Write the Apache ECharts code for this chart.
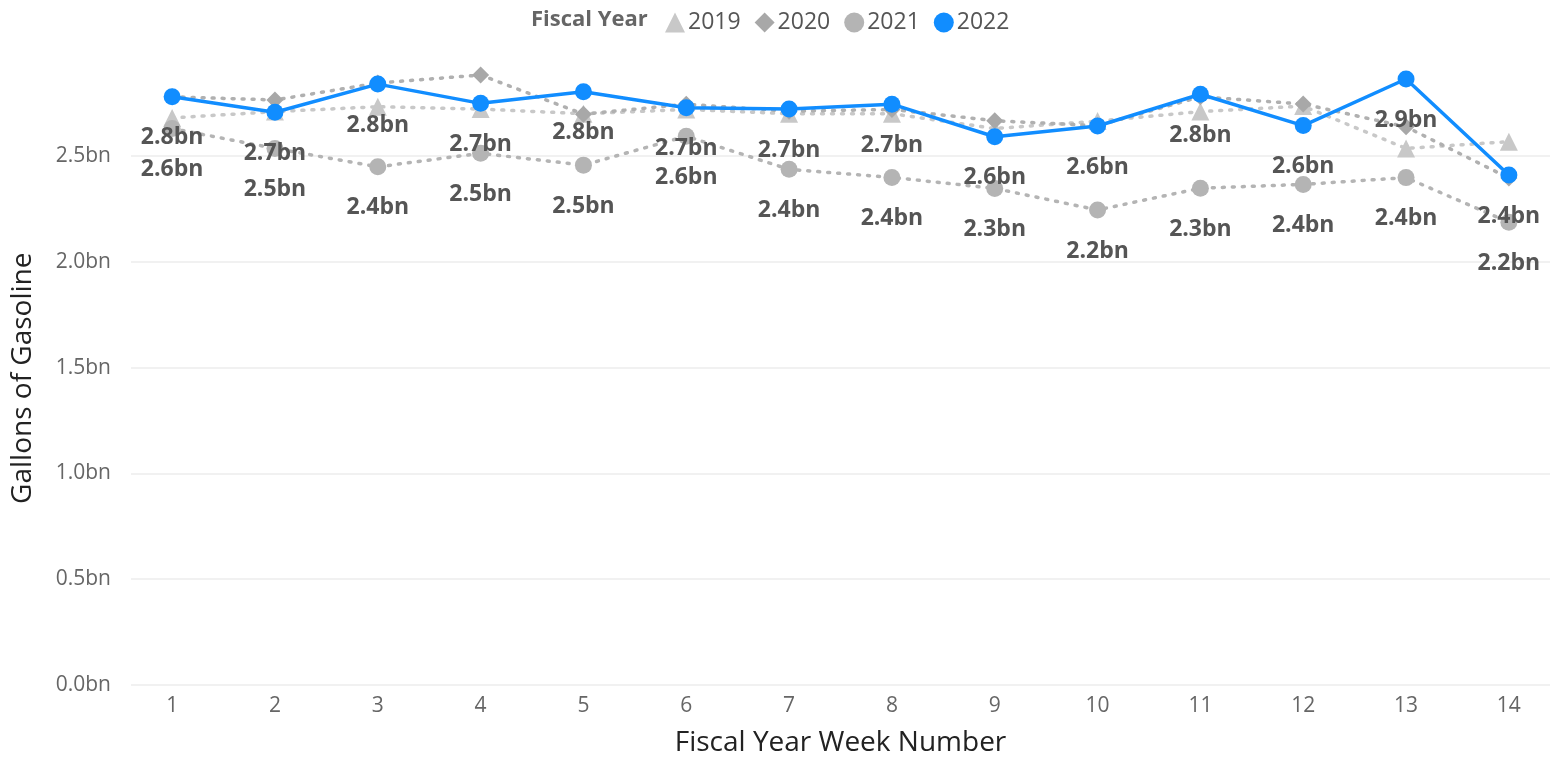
<!DOCTYPE html>
<html>
<head>
<meta charset="utf-8">
<script src="https://cdn.jsdelivr.net/npm/echarts@6/dist/echarts.min.js"></script>
<style>
html,body{margin:0;padding:0;background:#fff;}
#chart{width:1558px;height:768px;}
</style>
</head>
<body>
<div id="chart"></div>
<script>
const weeks = [1,2,3,4,5,6,7,8,9,10,11,12,13,14];
const fy2019 = [2.68, 2.71, 2.733, 2.722, 2.70, 2.72, 2.70, 2.70, 2.63, 2.665, 2.71, 2.736, 2.536, 2.568];
const fy2020 = [2.78, 2.765, 2.845, 2.883, 2.698, 2.745, 2.712, 2.72, 2.667, 2.643, 2.78, 2.746, 2.638, 2.396];
const fy2021 = [2.63, 2.536, 2.449, 2.513, 2.457, 2.594, 2.437, 2.399, 2.347, 2.245, 2.348, 2.366, 2.398, 2.187];
const fy2022 = [2.78, 2.707, 2.84, 2.749, 2.804, 2.728, 2.722, 2.745, 2.591, 2.642, 2.792, 2.644, 2.864, 2.41];
const yTicks = [0, 0.5, 1.0, 1.5, 2.0, 2.5];

const FONT = '"Segoe UI", "Open Sans", sans-serif';
const pairs = arr => arr.map((v, i) => [weeks[i], v]);
const fmt = v => v.toFixed(1) + 'bn';

const chart = echarts.init(document.getElementById('chart'));
const dataLabel = {
  show: true, position: 'bottom', distance: 21,
  formatter: p => fmt(p.value[1]),
  color: '#555555', fontSize: 23, fontWeight: 'bold', fontFamily: FONT
};
const dotted = color => ({color: color, width: 3.5, type: [2, 8], cap: 'round'});
chart.setOption({
  animation: false,
  title: {
    text: 'Fiscal Year', left: 526, top: 4,
    textStyle: {color: '#666666', fontSize: 22, fontWeight: 'bold', fontFamily: FONT}
  },
  legend: {
    left: 660, top: 6, itemWidth: 20, itemHeight: 20, itemGap: 14,
    textStyle: {color: '#555555', fontSize: 23, fontFamily: FONT, padding: [0,0,0,-2]},
    data: [
      {name: '2019', icon: 'triangle'},
      {name: '2020', icon: 'diamond'},
      {name: '2021', icon: 'circle'},
      {name: '2022', icon: 'circle'}
    ]
  },
  grid: {left: 131, right: 8, top: 71.4, bottom: 83},
  xAxis: {
    type: 'value', min: 0.6, max: 14.4,
    name: 'Fiscal Year Week Number', nameLocation: 'middle', nameGap: 44,
    nameTextStyle: {color: '#222', fontSize: 28, fontFamily: FONT},
    axisLine: {show: false}, axisTick: {show: false}, splitLine: {show: false},
    axisLabel: {customValues: weeks, color: '#666666', fontSize: 21, fontFamily: FONT, margin: 11, formatter: v => String(v)}
  },
  yAxis: {
    type: 'value', min: 0, max: 2.9,
    name: 'Gallons of Gasoline', nameLocation: 'middle', nameGap: 94,
    nameTextStyle: {color: '#222', fontSize: 28, fontFamily: FONT},
    axisLine: {show: false}, axisTick: {show: false},
    axisLabel: {customValues: yTicks, color: '#666666', fontSize: 21, fontFamily: FONT, margin: 20, formatter: v => fmt(v)},
    splitLine: {show: true, showMaxLine: false, lineStyle: {color: '#ececec', width: 1.5}}
  },
  series: [
    {name: '2019', type: 'line', data: pairs(fy2019), symbol: 'triangle', symbolSize: 18,
     itemStyle: {color: '#c8c8c8'}, lineStyle: dotted('#c8c8c8'), z: 2},
    {name: '2020', type: 'line', data: pairs(fy2020), symbol: 'diamond', symbolSize: 17,
     itemStyle: {color: '#a8a8a8'}, lineStyle: dotted('#b0b0b0'), z: 3},
    {name: '2021', type: 'line', data: pairs(fy2021), symbol: 'circle', symbolSize: 17,
     itemStyle: {color: '#b4b4b4'}, lineStyle: dotted('#b4b4b4'),
     label: dataLabel, z: 4},
    {name: '2022', type: 'line', data: pairs(fy2022), symbol: 'circle', symbolSize: 17,
     itemStyle: {color: '#118dff'}, lineStyle: {color: '#118dff', width: 3.5},
     label: dataLabel, z: 5}
  ]
});
</script>
</body>
</html>
